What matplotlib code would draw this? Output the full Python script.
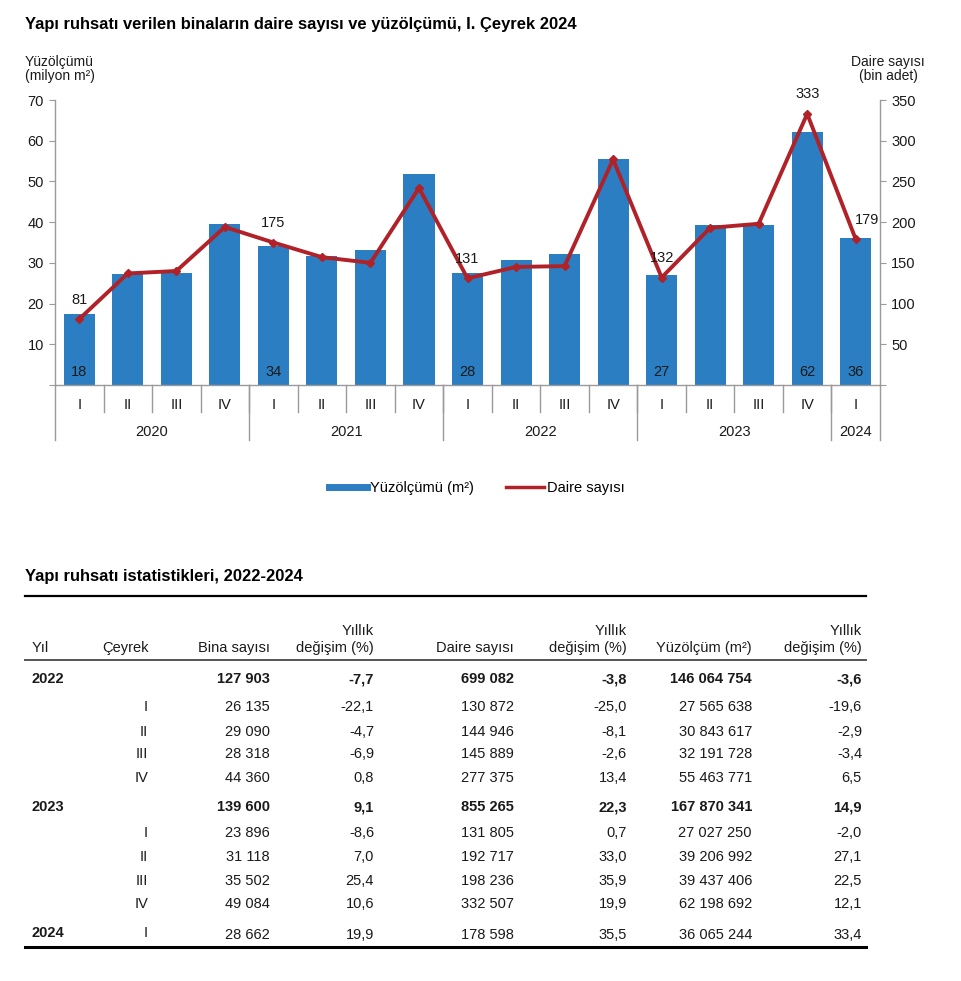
import matplotlib
matplotlib.use("Agg")
import matplotlib.pyplot as plt
from matplotlib.lines import Line2D
import matplotlib.transforms as mtransforms

plt.rcParams['font.family'] = ['Liberation Sans', 'DejaVu Sans']

# ---------------- data ----------------
quarters = ["I", "II", "III", "IV", "I", "II", "III", "IV", "I", "II", "III", "IV",
            "I", "II", "III", "IV", "I"]
years = ["2020", "2021", "2022", "2023", "2024"]
year_counts = [4, 4, 4, 4, 1]
area_mn_m2 = [17.4, 27.3, 27.5, 39.5, 34.1, 31.7, 33.2, 51.8,
              27.6, 30.8, 32.2, 55.5, 27.0, 39.2, 39.4, 62.2, 36.1]
dwellings_k = [81, 137, 140, 194, 175, 157, 150, 242,
               131, 145, 146, 277, 132, 193, 198, 333, 179]
bar_label_idx = [0, 4, 8, 12, 15, 16]
bar_labels = ["18", "34", "28", "27", "62", "36"]
line_label_idx = [0, 4, 8, 12, 15, 16]
line_labels = ["81", "175", "131", "132", "333", "179"]

tbl_year = ["2022", "", "", "", "", "2023", "", "", "", "", "2024"]
tbl_quarter = ["", "I", "II", "III", "IV", "", "I", "II", "III", "IV", "I"]
tbl_bold = [True, False, False, False, False, True, False, False, False, False, False]
tbl_bina = [127903, 26135, 29090, 28318, 44360, 139600, 23896, 31118, 35502, 49084, 28662]
tbl_bina_chg = [-7.7, -22.1, -4.7, -6.9, 0.8, 9.1, -8.6, 7.0, 25.4, 10.6, 19.9]
tbl_daire = [699082, 130872, 144946, 145889, 277375, 855265, 131805, 192717, 198236, 332507, 178598]
tbl_daire_chg = [-3.8, -25.0, -8.1, -2.6, 13.4, 22.3, 0.7, 33.0, 35.9, 19.9, 35.5]
tbl_yuz = [146064754, 27565638, 30843617, 32191728, 55463771, 167870341,
           27027250, 39206992, 39437406, 62198692, 36065244]
tbl_yuz_chg = [-3.6, -19.6, -2.9, -3.4, 6.5, 14.9, -2.0, 27.1, 22.5, 12.1, 33.4]

BLUE = "#2B7EC1"
RED = "#B02228"
TXT = "#1a1a1a"
GRAY = "#9a9a9a"

W, H = 961, 981
fig = plt.figure(figsize=(W / 100, H / 100), dpi=100)


def fx(x):
    return x / W


def fy(y):
    return 1 - y / H


# ---------------- chart ----------------
ax_l, ax_r, ax_t, ax_b = 55, 880, 100, 385
ax = fig.add_axes([fx(ax_l), fy(ax_b), fx(ax_r) - fx(ax_l), fy(ax_t) - fy(ax_b)])
ax2 = ax.twinx()
ax.set_zorder(1)
ax2.set_zorder(2)
ax.patch.set_visible(False)
ax2.patch.set_visible(False)

n = len(area_mn_m2)
xs = list(range(n))
ax.bar(xs, area_mn_m2, width=0.64, color=BLUE, zorder=2)
ax.set_xlim(-0.5, n - 0.5)
ax.set_ylim(0, 70)
ax.set_yticks(range(0, 71, 10))
ax.set_yticklabels([""] + [str(v) for v in range(10, 71, 10)])
ax.set_xticks([])

ax2.plot(xs, dwellings_k, color=RED, lw=2.8, marker="D", ms=4, zorder=3)
ax2.set_ylim(0, 350)
ax2.set_yticks(range(0, 351, 50))
ax2.set_yticklabels([""] + [str(v) for v in range(50, 351, 50)])

for a in (ax, ax2):
    a.spines['top'].set_visible(False)
    for s in ('left', 'right', 'bottom'):
        a.spines[s].set_color(GRAY)
        a.spines[s].set_linewidth(1.0)
    a.tick_params(axis='y', direction='out', length=4, color=GRAY,
                  labelsize=10.5, labelcolor=TXT, pad=4)
ax.spines['right'].set_visible(False)
ax2.spines['left'].set_visible(False)
ax2.spines['bottom'].set_visible(False)

for i, lab in zip(bar_label_idx, bar_labels):
    ax.text(xs[i], 3.2, lab, ha='center', va='center', fontsize=10.5, color=TXT, zorder=4)

for i, lab in zip(line_label_idx, line_labels):
    dx = 8 if i == n - 1 else 0
    ax2.annotate(lab, (xs[i], dwellings_k[i]), xytext=(dx, 14), textcoords='offset points',
                 ha='center', va='center', fontsize=10.5, color=TXT, zorder=5)

# category axis
trans = mtransforms.blended_transform_factory(ax.transData, ax.transAxes)
ah = ax_b - ax_t
q_sep = -27 / ah
y_sep = -55 / ah
for i in range(1, n):
    ax.plot([i - 0.5, i - 0.5], [0, q_sep], transform=trans, color=GRAY, lw=1.0, clip_on=False)
for i, q in enumerate(quarters):
    ax.text(i, -20 / ah, q, transform=trans, ha='center', va='center', fontsize=10.5, color=TXT)
start = 0
bounds = [-0.5]
for yr, c in zip(years, year_counts):
    ax.text(start + (c - 1) / 2, -47 / ah, yr, transform=trans, ha='center', va='center',
            fontsize=10.5, color=TXT)
    start += c
    bounds.append(start - 0.5)
for b in bounds:
    ax.plot([b, b], [0, y_sep], transform=trans, color=GRAY, lw=1.0, clip_on=False)

# axis titles
fig.text(fx(25), fy(69), "Yüzölçümü\n(milyon m²)", ha='left', va='center', fontsize=10,
         color=TXT, linespacing=1.05)
fig.text(fx(888), fy(69), "Daire sayısı\n(bin adet)", ha='center', va='center', fontsize=10,
         color=TXT, linespacing=1.05, multialignment='center')

fig.text(fx(25), fy(25), "Yapı ruhsatı verilen binaların daire sayısı ve yüzölçümü, I. Çeyrek 2024",
         ha='left', va='center', fontsize=11.9, fontweight='bold', color='black')

handles = [Line2D([], [], color=BLUE, lw=5), Line2D([], [], color=RED, lw=2.5)]
fig.legend(handles, ["Yüzölçümü (m²)", "Daire sayısı"], loc='center',
           bbox_to_anchor=(fx(477), fy(488)), ncol=2, frameon=False, fontsize=10.5,
           handlelength=2.6, handletextpad=0.2, columnspacing=2.2)

# ---------------- table ----------------
fig.text(fx(25), fy(577), "Yapı ruhsatı istatistikleri, 2022-2024", ha='left', va='center',
         fontsize=11.9, fontweight='bold', color='black')

L, R = fx(25), fx(866)
fig.add_artist(Line2D([L, R], [fy(596), fy(596)], color='black', lw=1.6))
fig.add_artist(Line2D([L, R], [fy(660), fy(660)], color='#555555', lw=1.4))
fig.add_artist(Line2D([L, R], [fy(947), fy(947)], color='black', lw=2.2))


def fmt_int(v):
    return f"{v:,}".replace(",", " ")


def fmt_pct(v):
    return f"{v:.1f}".replace(".", ",")


col_right = [149, 270, 374, 514, 627, 752, 862]
hdr_y1, hdr_y2 = 631, 648
fs = 10.5
fig.text(fx(32), fy(hdr_y2), "Yıl", ha='left', va='center', fontsize=fs, color=TXT)
fig.text(fx(149), fy(hdr_y2), "Çeyrek", ha='right', va='center', fontsize=fs, color=TXT)
fig.text(fx(270), fy(hdr_y2), "Bina sayısı", ha='right', va='center', fontsize=fs, color=TXT)
fig.text(fx(514), fy(hdr_y2), "Daire sayısı", ha='right', va='center', fontsize=fs, color=TXT)
fig.text(fx(752), fy(hdr_y2), "Yüzölçüm (m²)", ha='right', va='center', fontsize=fs, color=TXT)
for xr in (374, 627, 862):
    fig.text(fx(xr), fy(hdr_y1), "Yıllık", ha='right', va='center', fontsize=fs, color=TXT)
    fig.text(fx(xr), fy(hdr_y2), "değişim (%)", ha='right', va='center', fontsize=fs, color=TXT)

row_y = [679, 707, 732, 754, 778, 807, 833, 857, 881, 904, 935]
for k, yy in enumerate(row_y):
    bold = tbl_bold[k]
    w = 'bold' if bold else 'normal'
    if tbl_year[k]:
        fig.text(fx(32), fy(yy - (2 if k == len(row_y) - 1 else 0)), tbl_year[k], ha='left',
                 va='center', fontsize=fs, fontweight='bold', color=TXT)
    if tbl_quarter[k]:
        fig.text(fx(148), fy(yy - (2 if k == len(row_y) - 1 else 0)), tbl_quarter[k], ha='right',
                 va='center', fontsize=fs, color=TXT)
    vals = [fmt_int(tbl_bina[k]), fmt_pct(tbl_bina_chg[k]), fmt_int(tbl_daire[k]),
            fmt_pct(tbl_daire_chg[k]), fmt_int(tbl_yuz[k]), fmt_pct(tbl_yuz_chg[k])]
    for xr, v in zip(col_right[1:], vals):
        fig.text(fx(xr), fy(yy), v, ha='right', va='center', fontsize=fs, fontweight=w, color=TXT)

fig.savefig("out.png", dpi=100)
